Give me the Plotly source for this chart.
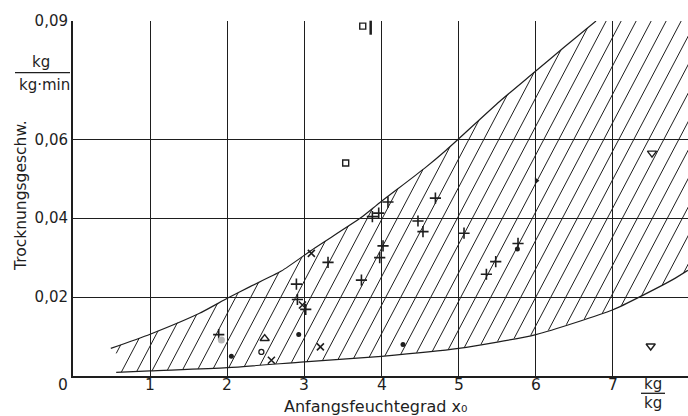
import numpy as np
import plotly.graph_objects as go

# ---- data ----
upper_x = [0.49, 1.0, 1.64, 2.0, 2.29, 2.70, 3.13, 3.73, 3.98, 4.56, 4.84, 5.53, 5.98, 6.37, 6.78]
upper_y = [0.0070, 0.0106, 0.0159, 0.0197, 0.0226, 0.0266, 0.0324, 0.0401, 0.0440, 0.0527, 0.0573, 0.0696, 0.0770, 0.0834, 0.0900]
lower_x = [0.56, 1.0, 2.0, 3.0, 4.0, 5.0, 6.0, 7.0, 7.41, 7.78, 7.97]
lower_y = [0.0009, 0.0013, 0.0021, 0.0036, 0.0050, 0.0070, 0.0105, 0.0168, 0.0207, 0.0245, 0.0268]

plus_x = [2.896, 3.306, 3.739, 3.881, 3.963, 4.083, 4.019, 3.976, 4.472, 4.537, 4.698, 5.069, 5.480, 5.359, 5.769, 3.017, 1.889, 2.909]
plus_y = [0.0233, 0.0288, 0.0243, 0.0404, 0.0413, 0.0441, 0.0330, 0.0300, 0.0393, 0.0366, 0.0451, 0.0362, 0.0290, 0.0258, 0.0336, 0.0169, 0.0105, 0.0194]
cross_x = [3.090, 2.572, 2.974, 3.207]
cross_y = [0.0311, 0.0040, 0.0180, 0.0074]
dot_x = [2.053, 2.926, 4.278, 5.761]
dot_y = [0.0050, 0.0105, 0.0080, 0.0322]
grey_x = [1.924]
grey_y = [0.0091]
ocircle_x = [2.442]
ocircle_y = [0.0061]
tri_up_x = [2.485]
tri_up_y = [0.0095]
square_x = [3.535, 3.756]
square_y = [0.0540, 0.0887]
tri_dn_x = [7.489, 7.506]
tri_dn_y = [0.0076, 0.0565]
flag_x = [6.007]
flag_y = [0.0495]
arrow_x = [3.859]
arrow_y = [0.0883]

x_ticks = [1, 2, 3, 4, 5, 6, 7]
x_ticktext = ["1", "2", "3", "4", "5", "6", "7"]
y_ticks = [0.02, 0.04, 0.06, 0.09]
y_ticktext = ["0,02", "0,04", "0,06", "0,09"]

# ---- layout constants ----
W, H = 688, 416
ML, MR, MT, MB = 73, 0, 21, 40
PW, PH = W - ML - MR, H - MT - MB
X_MAX = PW / 77.14
Y_MAX = 0.09
INK = "#1e1e1e"
FONT = "DejaVu Sans"

def px(xp):
    return (xp - ML) / PW

def py(yp):
    return 1 - (yp - MT) / PH

# ---- hatch lines (style: slope & spacing), clipped to band ----
H_SLOPE = 1.9 * 77.14 / (PH / Y_MAX)
H_STEP = 15.0 / 77.14
yy = np.linspace(0, Y_MAX, 3000)
hx, hy = [], []
for k in range(-60, 40):
    xs = 6.0 + k * H_STEP + (yy - 0.02) / H_SLOPE
    lo = np.interp(xs, lower_x + [9.0], lower_y + [0.05], left=np.nan)
    up = np.interp(xs, upper_x, upper_y, left=np.nan, right=Y_MAX)
    up = np.minimum(up, Y_MAX)
    inside = (xs >= min(upper_x)) & (yy >= lo) & (yy <= up)
    idx = np.where(inside)[0]
    if len(idx) < 2:
        continue
    i0, i1 = idx[0], idx[-1]
    hx += [xs[i0], xs[i1], None]
    hy += [yy[i0], yy[i1], None]

fig = go.Figure()
fig.add_trace(go.Scatter(x=hx, y=hy, mode="lines", line=dict(color=INK, width=1), hoverinfo="skip"))
fig.add_trace(go.Scatter(x=upper_x, y=upper_y, mode="lines", line=dict(color=INK, width=1.2, shape="spline", smoothing=0.6)))
fig.add_trace(go.Scatter(x=lower_x, y=lower_y, mode="lines", line=dict(color=INK, width=1.2, shape="spline", smoothing=0.6)))

def mk(x, y, symbol, size, color=INK, lw=1.4):
    fig.add_trace(go.Scatter(x=x, y=y, mode="markers", cliponaxis=False,
                             marker=dict(symbol=symbol, size=size, color=color,
                                         line=dict(color=color, width=lw))))

mk(plus_x, plus_y, "cross-thin", 8, lw=1.6)
mk(cross_x, cross_y, "x-thin", 7, lw=1.6)
mk(dot_x, dot_y, "circle", 5, lw=0)
mk(grey_x, grey_y, "circle", 7, color="#b5b5b5", lw=0)
mk(ocircle_x, ocircle_y, "circle-open", 5, lw=1.3)
mk(tri_up_x, tri_up_y, "triangle-up-open", 8, lw=1.4)
mk(square_x, square_y, "square-open", 6, lw=1.4)
mk(tri_dn_x, tri_dn_y, "triangle-down-open", 8, lw=1.4)
mk(flag_x, flag_y, "triangle-right", 6, lw=0)
mk(arrow_x, arrow_y, "line-ns", 10, lw=2.5)

ann = []
def text(xp, yp, t, size=16, xanchor="center", yanchor="middle", angle=0):
    ann.append(dict(x=px(xp), y=py(yp), xref="paper", yref="paper", text=t, showarrow=False,
                    xanchor=xanchor, yanchor=yanchor, textangle=angle,
                    font=dict(family=FONT, size=size, color=INK)))

# x tick labels, placed at the axis' own data positions
for v, t in zip(x_ticks, x_ticktext):
    ann.append(dict(x=v, y=py(385), xref="x", yref="paper", text=t, showarrow=False,
                    xanchor="center", yanchor="middle", font=dict(family=FONT, size=15.5, color=INK)))

text(63, 385, "0", size=15.5)
text(690, 385, "8", size=15.5, xanchor="left")
text(376, 406, "Anfangsfeuchtegrad x\u2080", size=16)
text(21, 196, "Trocknungsgeschw.", size=15.5, angle=-90)
text(41, 62, "kg", size=15)
text(44, 85, "kg·min", size=15)
text(653, 384, "kg", size=15)
text(653, 403, "kg", size=15)

shapes = [
    dict(type="line", xref="paper", yref="paper", x0=px(15), x1=px(70), y0=py(72.7), y1=py(72.7),
         line=dict(color=INK, width=1.3)),
    dict(type="line", xref="paper", yref="paper", x0=px(641), x1=px(665), y0=py(393.3), y1=py(393.3),
         line=dict(color=INK, width=1.3)),
]

fig.update_layout(
    width=W, height=H, margin=dict(l=ML, r=MR, t=MT, b=MB),
    paper_bgcolor="white", plot_bgcolor="white", showlegend=False,
    annotations=ann, shapes=shapes,
    font=dict(family=FONT, color=INK, size=16),
    xaxis=dict(range=[0, X_MAX], tickvals=x_ticks, showticklabels=False, showgrid=True,
               gridcolor=INK, gridwidth=1, zeroline=False, showline=True, linecolor=INK,
               linewidth=2, ticks="", fixedrange=True),
    yaxis=dict(range=[0, Y_MAX], tickvals=y_ticks, ticktext=y_ticktext, showgrid=True,
               gridcolor=INK, gridwidth=1, zeroline=False, showline=True, linecolor=INK,
               linewidth=2, ticks="", tickfont=dict(size=15, family=FONT, color=INK), fixedrange=True),
)

fig.write_html("out.html")
